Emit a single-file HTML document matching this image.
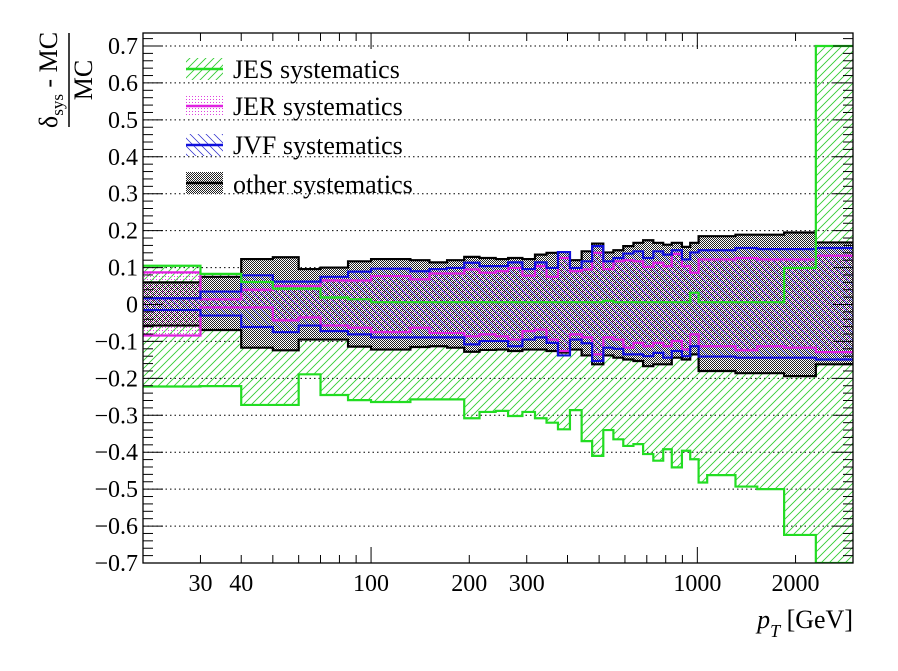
<!DOCTYPE html>
<html><head><meta charset="utf-8"><style>
html,body{margin:0;padding:0;background:#fff;}
svg{display:block;font-family:"Liberation Serif",serif;}
</style></head><body>
<svg id="chart" width="898" height="671" viewBox="0 0 898 671" xmlns="http://www.w3.org/2000/svg">
<defs>
<pattern id="pJES" width="8" height="8" patternUnits="userSpaceOnUse"><path d="M-2,10 L10,-2 M-2,2 L2,-2 M6,10 L10,6" stroke="#33cc33" stroke-width="0.9"/></pattern>
<pattern id="pOTH" width="2" height="2" patternUnits="userSpaceOnUse"><rect width="2" height="2" fill="#fff"/><rect width="1" height="1" fill="#222"/><rect x="1" y="1" width="1" height="1" fill="#222"/></pattern>
<pattern id="pJER" width="3" height="3" patternUnits="userSpaceOnUse"><rect width="1" height="1" fill="#e040e0"/></pattern>
<pattern id="pJVF" width="8" height="8" patternUnits="userSpaceOnUse"><path d="M-1,-1 L9,9 M7,-1 L9,1 M-1,7 L1,9" stroke="#2222cc" stroke-width="0.7"/></pattern>
<clipPath id="clip"><rect x="143" y="33" width="710" height="530"/></clipPath>
</defs>
<g id="grid"></g>
<g id="bands" clip-path="url(#clip)"></g>
<g id="axes"></g>
<g id="legend">
  <rect x="186" y="58" width="37" height="22" fill="url(#pJES)"/>
  <line x1="186" y1="69" x2="223" y2="69" stroke="#22dd22" stroke-width="2.5"/>
  <text x="233" y="78" font-size="26">JES systematics</text>
  <rect x="186" y="95" width="37" height="22" fill="url(#pJER)"/>
  <line x1="186" y1="106" x2="223" y2="106" stroke="#e020e0" stroke-width="2.5"/>
  <text x="233" y="115" font-size="26">JER systematics</text>
  <rect x="186" y="134" width="37" height="22" fill="url(#pJVF)"/>
  <line x1="186" y1="145" x2="223" y2="145" stroke="#1010dd" stroke-width="2.5"/>
  <text x="233" y="154" font-size="26">JVF systematics</text>
  <rect x="186" y="172" width="37" height="22" fill="url(#pOTH)"/>
  <line x1="186" y1="183" x2="223" y2="183" stroke="#000" stroke-width="2.5"/>
  <text x="233" y="193" font-size="26">other systematics</text>
</g>
<g transform="translate(57,80) rotate(-90)">
  <text x="0" y="0" font-size="26" text-anchor="middle">δ<tspan font-size="17" dy="6">sys</tspan><tspan dy="-6"> - MC</tspan></text>
  <line x1="-47" y1="12" x2="47" y2="12" stroke="#000" stroke-width="1.5"/>
  <text x="0" y="35" font-size="26" text-anchor="middle">MC</text>
</g>
<text x="853" y="628" font-size="26" text-anchor="end"><tspan font-style="italic">p</tspan><tspan font-style="italic" font-size="18" dy="9">T</tspan><tspan dy="-9"> [GeV]</tspan></text>
</svg>
<script>
const edges = [20,30,40,50,60,70,85,100,132,151,171,193,215,241,263,291,318,345,374,407,442,476,515,553,593,637,682,733,786,835,897,951,1009,1072,1309,1527,1845,2308,3000];
const jesUp = [.105,.083,.061,.043,.043,.019,.014,.006,.006,.006,.006,.006,.006,.006,.006,.006,.006,.006,.006,.006,.006,.006,.01,.006,.006,.006,.006,.006,.006,.006,.006,.032,.006,.006,.006,.006,.099,.7];
const jesDn = [-.222,-.221,-.272,-.272,-.189,-.245,-.259,-.264,-.257,-.257,-.257,-.308,-.291,-.288,-.302,-.291,-.308,-.32,-.338,-.286,-.37,-.41,-.34,-.365,-.383,-.378,-.405,-.423,-.392,-.441,-.396,-.419,-.482,-.462,-.493,-.5,-.624,-.7];
const jerUp = [.087,.014,.04,.05,.05,.065,.065,.077,.068,.084,.084,.095,.086,.09,.099,.078,.104,.075,.126,.09,.095,.14,.096,.117,.12,.117,.102,.113,.104,.137,.104,.086,.122,.122,.126,.122,.122,.132];
const jerDn = [-.084,-.008,-.008,-.043,-.035,-.057,-.063,-.075,-.063,-.077,-.077,-.086,-.081,-.086,-.095,-.072,-.068,-.095,-.126,-.081,-.089,-.135,-.089,-.095,-.117,-.104,-.113,-.104,-.113,-.099,-.122,-.081,-.113,-.113,-.124,-.113,-.117,-.129];
const jvfUp = [.017,.035,.079,.062,.062,.075,.089,.097,.09,.096,.099,.113,.104,.104,.114,.096,.114,.099,.142,.099,.117,.158,.117,.126,.138,.144,.126,.144,.135,.147,.122,.141,.147,.147,.153,.15,.15,.153];
const jvfDn = [-.015,-.03,-.061,-.075,-.057,-.072,-.081,-.089,-.089,-.089,-.089,-.108,-.099,-.099,-.113,-.095,-.089,-.104,-.138,-.095,-.105,-.153,-.117,-.12,-.135,-.135,-.14,-.131,-.144,-.126,-.14,-.113,-.141,-.141,-.144,-.144,-.144,-.149];
const othUp = [.06,.075,.123,.128,.096,.1,.117,.123,.12,.114,.12,.129,.126,.123,.126,.123,.135,.14,.142,.12,.144,.165,.141,.147,.158,.167,.174,.167,.162,.167,.156,.167,.185,.185,.189,.189,.195,.168];
const othDn = [-.057,-.069,-.117,-.124,-.095,-.095,-.114,-.122,-.115,-.113,-.117,-.128,-.123,-.122,-.126,-.122,-.122,-.126,-.13,-.122,-.138,-.162,-.138,-.144,-.149,-.153,-.167,-.162,-.162,-.144,-.149,-.135,-.18,-.18,-.186,-.186,-.194,-.162];
const yTicks = [-0.7,-0.6,-0.5,-0.4,-0.3,-0.2,-0.1,0,0.1,0.2,0.3,0.4,0.5,0.6,0.7];
const yTickLabels = ["−0.7","−0.6","−0.5","−0.4","−0.3","−0.2","−0.1","0","0.1","0.2","0.3","0.4","0.5","0.6","0.7"];
const xMinor = [20,30,40,50,60,70,80,90,200,300,400,500,600,700,800,900,2000,3000];
const xMajor = [100,1000];
const xLabels = [30,40,100,200,300,1000,2000];

const NS = "http://www.w3.org/2000/svg";
const L=143,R=853,T=33,B=563;
const lx0=Math.log10(20), lx1=Math.log10(3000);
function X(v){return L+(Math.log10(v)-lx0)/(lx1-lx0)*(R-L);}
const y0=-0.7, y1=0.7+13/369.3;
function Y(v){return B-(v-y0)/(y1-y0)*(B-T);}
function mk(tag,attrs,parent){const e=document.createElementNS(NS,tag);for(const k in attrs)e.setAttribute(k,attrs[k]);parent.appendChild(e);return e;}
function stepLine(vals){let d="M"+X(edges[0])+","+Y(vals[0]);for(let i=0;i<vals.length;i++){d+=" V"+Y(vals[i])+" H"+X(edges[i+1]);}return d;}
function stepArea(up,dn){let d=stepLine(up);for(let i=dn.length-1;i>=0;i--){d+=" V"+Y(dn[i])+" H"+X(edges[i]);}return d+" Z";}

const grid=document.getElementById('grid');
yTicks.forEach(v=>{const g=mk('line',{x1:L,x2:R,y1:Y(v),y2:Y(v),stroke:'#000','stroke-width':1,'stroke-dasharray':'1.5,3'},grid);

});

const bands=document.getElementById('bands');
const series=[
 ['jes',jesUp,jesDn,'url(#pJES)','#22dd22'],
 ['other',othUp,othDn,'url(#pOTH)','#000'],
 ['jer',jerUp,jerDn,'url(#pJER)','#e020e0'],
 ['jvf',jvfUp,jvfDn,'url(#pJVF)','#1010dd']];
series.forEach(s=>{const a=mk('path',{d:stepArea(s[1],s[2]),fill:s[3],stroke:'none'},bands);

});
[series[1],series[2],series[3],series[0]].forEach(s=>{
 const u=mk('path',{d:stepLine(s[1]),fill:'none',stroke:s[4],'stroke-width':2.2},bands);
 
 
 const d=mk('path',{d:stepLine(s[2]),fill:'none',stroke:s[4],'stroke-width':2.2},bands);
 
 });

const axes=document.getElementById('axes');
const fr=mk('rect',{x:L,y:T,width:R-L,height:B-T,fill:'none',stroke:'#000','stroke-width':1.3},axes);


for(let k=-35;k<=36;k++){const vv=k*0.02;const major=(k%5===0);const len=major?20:10;
 mk('line',{x1:L,x2:L+len,y1:Y(vv),y2:Y(vv),stroke:'#000','stroke-width':1},axes);
 mk('line',{x1:R,x2:R-len,y1:Y(vv),y2:Y(vv),stroke:'#000','stroke-width':1},axes);}
yTicks.forEach((v,i)=>{const t=mk('text',{x:138,y:Y(v)+8,'font-size':24,'text-anchor':'end'},axes);t.textContent=yTickLabels[i];

});
xMinor.forEach(v=>{mk('line',{x1:X(v),x2:X(v),y1:B,y2:B-8,stroke:'#000'},axes);mk('line',{x1:X(v),x2:X(v),y1:T,y2:T+8,stroke:'#000'},axes);});
xMajor.forEach(v=>{mk('line',{x1:X(v),x2:X(v),y1:B,y2:B-16,stroke:'#000'},axes);mk('line',{x1:X(v),x2:X(v),y1:T,y2:T+16,stroke:'#000'},axes);});
xLabels.forEach(v=>{const t=mk('text',{x:X(v),y:591,'font-size':24,'text-anchor':'middle'},axes);t.textContent=String(v);

});
</script>
</body></html>
